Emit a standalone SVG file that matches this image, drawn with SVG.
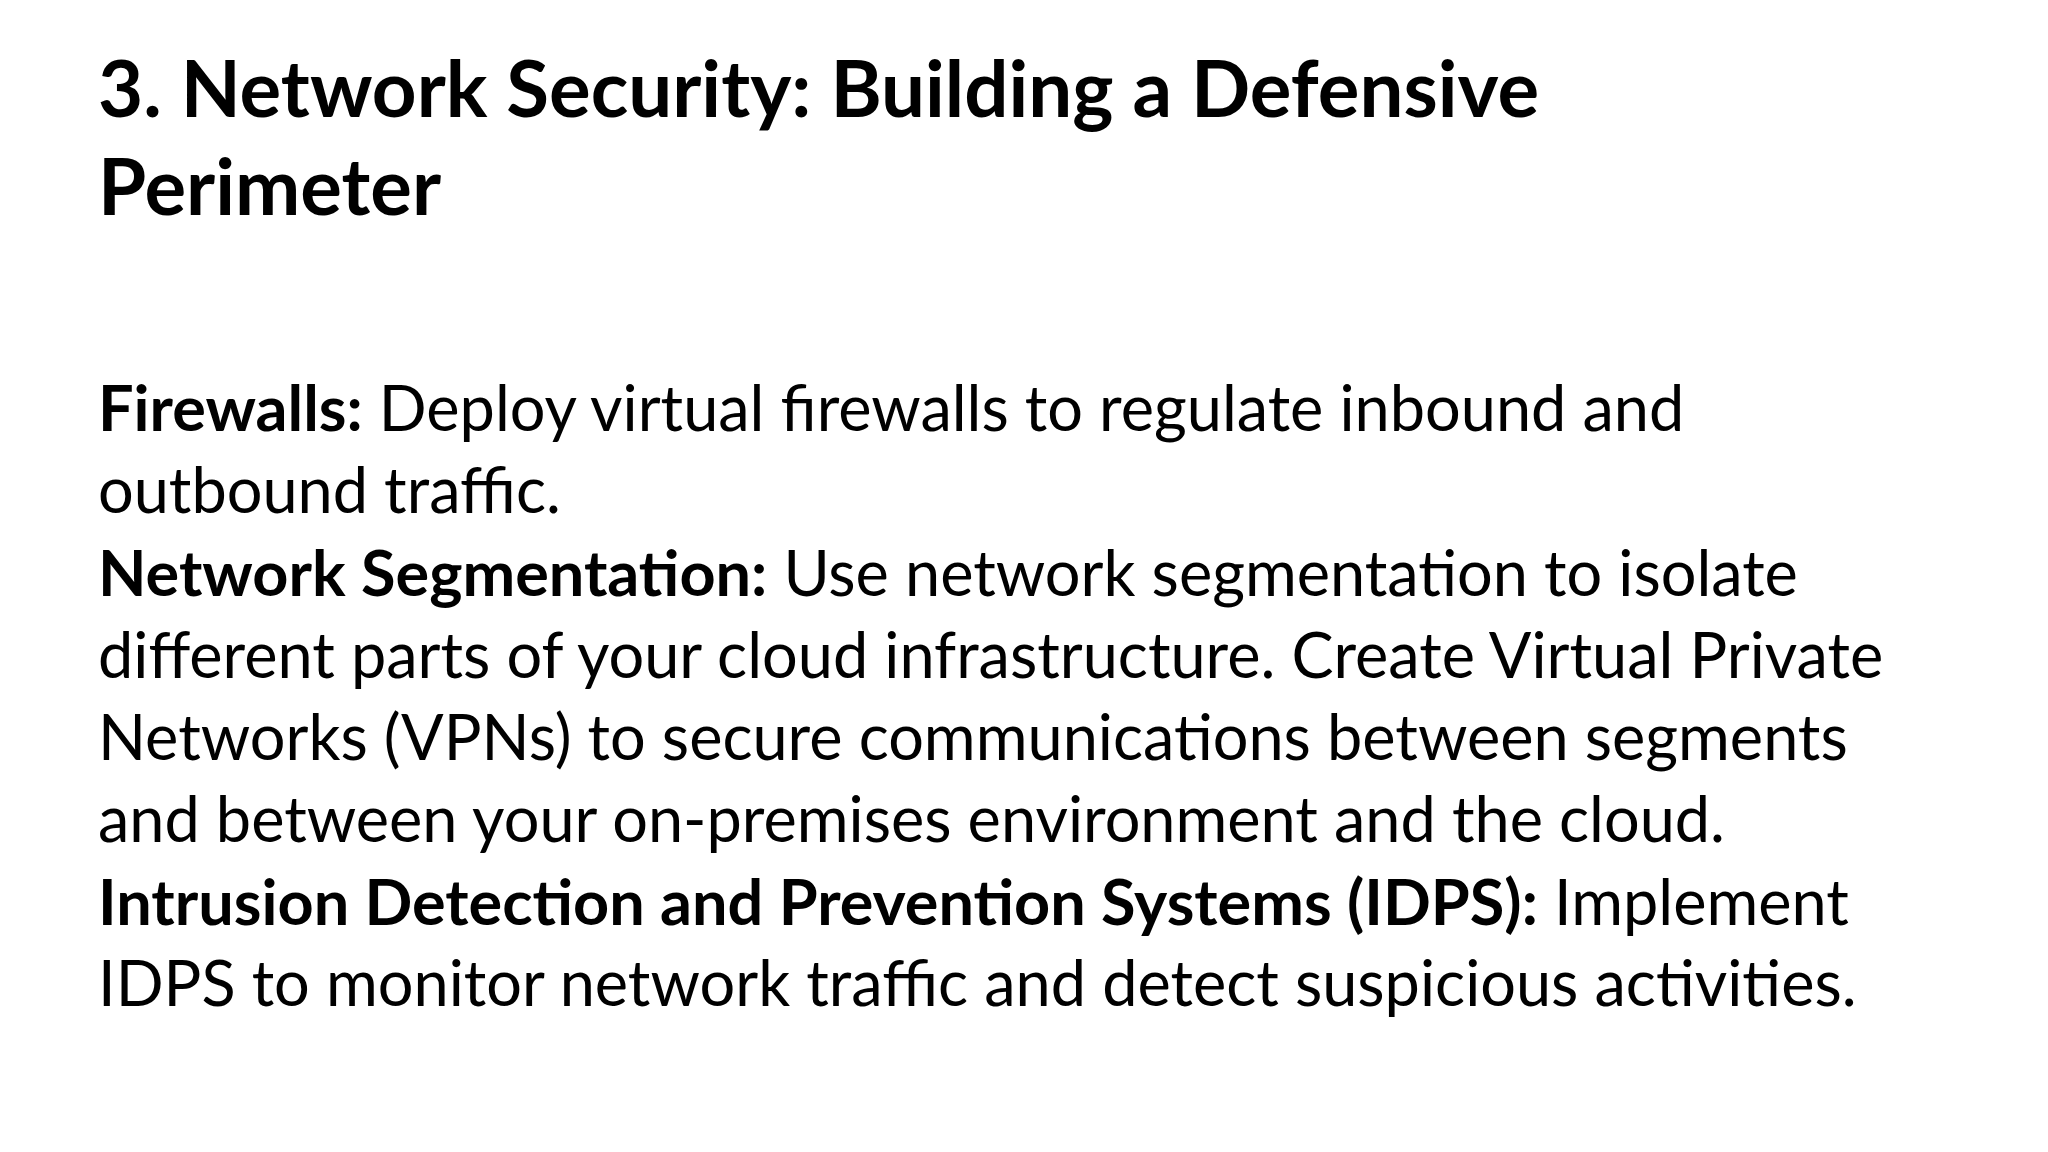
<svg xmlns="http://www.w3.org/2000/svg" width="2048" height="1152" viewBox="0 0 2048 1152">
<style>
.t{font-family:Lato,"Liberation Sans",sans-serif;font-weight:bold;font-size:78px;fill:#000}
.b{font-family:Lato,"Liberation Sans",sans-serif;font-size:63px;fill:#000}
.k{font-weight:bold}
</style>
<rect width="2048" height="1152" fill="#fff"/>
<g id="title">
<text class="t" x="98" y="117">3. Network Security: Building a Defensive</text>
<text class="t" x="98" y="215">Perimeter</text>
</g>
<g id="body">
<text class="b" x="98" y="431"><tspan class="k">Firewalls:</tspan> Deploy virtual firewalls to regulate inbound and</text>
<text class="b" x="98" y="513">outbound traffic.</text>
<text class="b" x="98" y="596"><tspan class="k">Network Segmentation:</tspan> Use network segmentation to isolate</text>
<text class="b" x="98" y="678">different parts of your cloud infrastructure. Create Virtual Private</text>
<text class="b" x="98" y="760">Networks (VPNs) to secure communications between segments</text>
<text class="b" x="98" y="842">and between your on-premises environment and the cloud.</text>
<text class="b" x="98" y="925"><tspan class="k">Intrusion Detection and Prevention Systems (IDPS):</tspan> Implement</text>
<text class="b" x="98" y="1006">IDPS to monitor network traffic and detect suspicious activities.</text>
</g>
</svg>
